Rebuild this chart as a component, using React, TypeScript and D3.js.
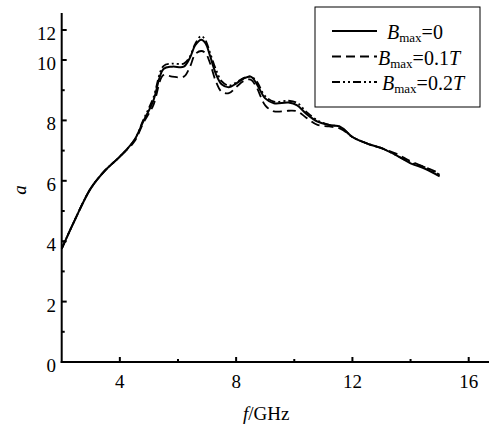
import React from "react";
import * as d3 from "d3";

const freq = [2.0, 2.45, 3.0, 3.5, 4.0, 4.5, 4.8, 5.15, 5.5, 5.8, 6.2, 6.4, 6.6, 6.8, 6.95, 7.1, 7.3, 7.5, 7.75, 8.0, 8.25, 8.5, 8.7, 9.0, 9.3, 9.8, 10.1, 10.4, 10.8, 11.2, 11.6, 12.0, 12.6, 13.0, 13.5, 14.0, 14.5, 15.0];
const b0 = [3.75, 4.7, 5.75, 6.35, 6.8, 7.35, 7.95, 8.65, 9.7, 9.78, 9.78, 10.1, 11.0, 11.35, 11.1, 10.3, 9.55, 9.2, 9.1, 9.22, 9.38, 9.45, 9.22, 8.73, 8.57, 8.59, 8.5, 8.23, 7.96, 7.85, 7.78, 7.45, 7.2, 7.08, 6.85, 6.58, 6.4, 6.15];
const b01 = [3.75, 4.7, 5.75, 6.35, 6.8, 7.3, 7.9, 8.5, 9.5, 9.45, 9.45, 9.75, 10.4, 10.6, 10.45, 9.9, 9.3, 8.95, 8.9, 9.1, 9.3, 9.35, 9.1, 8.5, 8.3, 8.32, 8.3, 8.1, 7.85, 7.8, 7.72, 7.45, 7.2, 7.08, 6.9, 6.65, 6.45, 6.25];
const b02 = [3.75, 4.7, 5.75, 6.35, 6.8, 7.35, 8.0, 8.75, 9.8, 9.88, 9.88, 10.2, 11.1, 11.6, 11.3, 10.5, 9.7, 9.3, 9.15, 9.25, 9.4, 9.45, 9.3, 8.8, 8.62, 8.65, 8.58, 8.3, 8.0, 7.85, 7.78, 7.45, 7.2, 7.08, 6.85, 6.6, 6.45, 6.2];

const xMajor = [4, 8, 12, 16];
const xMinor = [6, 10, 14];
const yMajor = [0, 2, 4, 6, 8, 10, 12];
const yMinor = [1, 3, 5, 7, 9];

const seriesNames = ["0", "0.1", "0.2"];
const seriesDash = ["none", "9,5", "8,3,2,3,2,3"];

const FONT = "'Liberation Serif', 'Times New Roman', serif";

export default function App() {
  const x = d3.scaleLinear().domain([2, 16]).range([61.7, 468.7]);
  const y = d3.scaleLinear().domain([0, 10, 12]).range([362, 60, 30]);
  const series = [b0, b01, b02];
  const line = d3
    .line<number>()
    .x((_, i) => x(freq[i]))
    .y((d) => y(d))
    .curve(d3.curveCatmullRom.alpha(0.5));

  const x0 = x(2);
  const y0 = y(0);

  return (
    <svg width={491} height={426} style={{ position: "absolute", left: 0, top: 0, background: "#fff" }} fontFamily={FONT}>
      {/* curves */}
      {series.map((s, k) => (
        <path key={k} d={line(s) || ""} fill="none" stroke="#000" strokeWidth={k === 0 ? 2 : 1.8} strokeDasharray={seriesDash[k]} />
      ))}
      {/* axes */}
      <line x1={x0} x2={x0} y1={13} y2={y0 + 1} stroke="#000" strokeWidth={2} />
      <line x1={x0 - 1} x2={489} y1={y0} y2={y0} stroke="#000" strokeWidth={2} />
      {yMajor.map((v) => (
        <g key={"ym" + v}>
          <line x1={x0} x2={x0 + 5} y1={y(v)} y2={y(v)} stroke="#000" strokeWidth={2} />
          <text x={56} y={y(v) + 10} textAnchor="end" fontSize={19} fill="#000">{v}</text>
        </g>
      ))}
      {yMinor.map((v) => (
        <line key={"yn" + v} x1={x0} x2={x0 + 3} y1={y(v)} y2={y(v)} stroke="#000" strokeWidth={2} />
      ))}
      {xMajor.map((v) => (
        <g key={"xm" + v}>
          <line x1={x(v)} x2={x(v)} y1={y0} y2={y0 - 5} stroke="#000" strokeWidth={2} />
          <text x={x(v)} y={388} textAnchor="middle" fontSize={19} fill="#000">{v}</text>
        </g>
      ))}
      {xMinor.map((v) => (
        <line key={"xn" + v} x1={x(v)} x2={x(v)} y1={y0} y2={y0 - 3} stroke="#000" strokeWidth={2} />
      ))}
      {/* axis titles */}
      <text x={243} y={420} fontSize={19} fill="#000">
        <tspan fontStyle="italic">f</tspan>/GHz
      </text>
      <text transform="translate(26,190) rotate(-90)" textAnchor="middle" fontSize={19} fontStyle="italic" fill="#000">a</text>
      {/* legend */}
      <rect x={315} y={7} width={165} height={100} fill="#fff" stroke="#000" strokeWidth={1} />
      {seriesNames.map((nm, k) => {
        const ly = 31 + k * 25.5;
        const tx = k === 0 ? 387 : k === 1 ? 378 : 382;
        return (
          <g key={"lg" + k}>
            <line x1={332} x2={377} y1={ly} y2={ly} stroke="#000" strokeWidth={k === 0 ? 2 : 1.8} strokeDasharray={seriesDash[k]} />
            <text x={tx} y={ly + 8} fontSize={20} fill="#000">
              <tspan fontStyle="italic">B</tspan>
              <tspan fontSize={13} dy={3}>max</tspan>
              <tspan dy={-3}>={nm}</tspan>
              {k > 0 ? <tspan fontStyle="italic">T</tspan> : null}
            </text>
          </g>
        );
      })}
    </svg>
  );
}
